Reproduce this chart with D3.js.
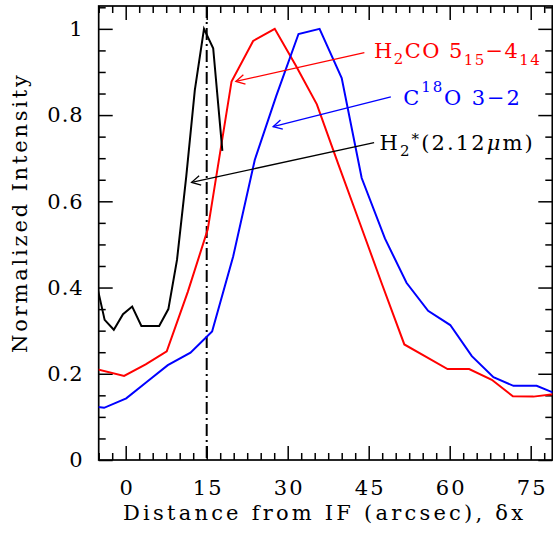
<!DOCTYPE html>
<html><head><meta charset="utf-8">
<script src="https://cdn.jsdelivr.net/npm/d3@7"></script>
<style>body{margin:0;background:#fff} text{font-family:"DejaVu Serif",serif;}</style>
</head><body><svg id="c" width="553" height="539"></svg>
<script>
// ---- data ----
const h2coX = [-5.5, -0.3, 3.7, 7.6, 11.5, 15.2, 19.6, 23.6, 27.6, 31.5, 35.4, 39.4, 43.4, 47.4, 51.6, 55.4, 59.6, 63.6, 67.8, 71.7, 75.5, 79.5];
const h2coY = [0.211, 0.195, 0.222, 0.252, 0.39, 0.535, 0.878, 0.972, 1.0, 0.915, 0.825, 0.685, 0.548, 0.41, 0.268, 0.241, 0.211, 0.211, 0.186, 0.148, 0.147, 0.153];
const c18oX = [-8.0, -4.0, 0.1, 4.0, 7.8, 12.0, 16.0, 19.9, 23.9, 27.9, 32.0, 35.9, 40.0, 43.7, 48.0, 52.0, 56.0, 60.1, 64.1, 68.1, 71.8, 76.1, 80.0];
const c18oY = [0.128, 0.121, 0.143, 0.182, 0.22, 0.249, 0.298, 0.472, 0.696, 0.845, 0.988, 1.0, 0.886, 0.654, 0.514, 0.411, 0.346, 0.313, 0.241, 0.192, 0.172, 0.172, 0.152];
const h2X = [-5.6, -3.9, -2.2, -0.5, 1.2, 2.9, 4.5, 6.2, 7.9, 9.5, 11.2, 12.8, 14.5, 16.2, 17.9];
const h2Y = [0.42, 0.325, 0.302, 0.338, 0.356, 0.311, 0.311, 0.311, 0.35, 0.464, 0.656, 0.858, 1.0, 0.955, 0.717];

const xTicks = [0, 15, 30, 45, 60, 75];
const xMinorStep = 2.5;
const yTicks = [0, 0.2, 0.4, 0.6, 0.8, 1];
const yTickLabels = ["0", "0.2", "0.4", "0.6", "0.8", "1"];
const yMinorStep = 0.05;
const xDomain = [-5, 79];
const yDomain = [0, 1.053];
const markerX = 15;

// annotations: [label anchor x, y, arrow start x, y, arrow tip x, y]
const annH2co = [46.0, 0.933, 44.2, 0.945, 20.4, 0.878];
const annC18o = [51.4, 0.824, 49.1, 0.842, 27.3, 0.773];
const annH2 = [47.0, 0.719, 46.0, 0.736, 12.2, 0.644];

// ---- layout ----
const L = 98.7, R = 552.3, T = 6, B = 460;
const svg = d3.select("#c");
const x = d3.scaleLinear().domain(xDomain).range([L, R]);
const y = d3.scaleLinear().domain(yDomain).range([B, T]);

const xMinor = d3.range(-5, 79.01, xMinorStep).filter(v => !xTicks.includes(v));
const yMinor = d3.range(0, 1.0501, yMinorStep).map(v => +v.toFixed(2)).filter(v => !yTicks.includes(v));

function styleAxis(g) {
  g.select(".domain").remove();
  g.selectAll("line").attr("stroke", "#000").attr("stroke-width", 1.5);
  g.selectAll("text").attr("font-family", "DejaVu Serif").attr("font-size", 21).attr("fill", "#000");
}

// bottom
svg.append("g").attr("transform", `translate(0,${B})`)
  .call(d3.axisBottom(x).tickValues(xTicks).tickSize(-14).tickSizeOuter(0).tickPadding(20).tickFormat(d3.format("d")))
  .call(styleAxis)
  .call(g => g.selectAll("text").attr("letter-spacing", 2).attr("dx", 1));
svg.append("g").attr("transform", `translate(0,${B})`)
  .call(d3.axisBottom(x).tickValues(xMinor).tickSize(-7).tickSizeOuter(0).tickFormat(""))
  .call(styleAxis);
// top
svg.append("g").attr("transform", `translate(0,${T})`)
  .call(d3.axisTop(x).tickValues(xTicks).tickSize(-14).tickSizeOuter(0).tickFormat(""))
  .call(styleAxis);
svg.append("g").attr("transform", `translate(0,${T})`)
  .call(d3.axisTop(x).tickValues(xMinor).tickSize(-7).tickSizeOuter(0).tickFormat(""))
  .call(styleAxis);
// left
svg.append("g").attr("transform", `translate(${L},0)`)
  .call(d3.axisLeft(y).tickValues(yTicks).tickSize(-14).tickSizeOuter(0).tickPadding(15).tickFormat((d, i) => yTickLabels[i]))
  .call(styleAxis)
  .call(g => g.selectAll("text").attr("letter-spacing", 1));
svg.append("g").attr("transform", `translate(${L},0)`)
  .call(d3.axisLeft(y).tickValues(yMinor).tickSize(-7).tickSizeOuter(0).tickFormat(""))
  .call(styleAxis);
// right
svg.append("g").attr("transform", `translate(${R},0)`)
  .call(d3.axisRight(y).tickValues(yTicks).tickSize(-14).tickSizeOuter(0).tickFormat(""))
  .call(styleAxis);
svg.append("g").attr("transform", `translate(${R},0)`)
  .call(d3.axisRight(y).tickValues(yMinor).tickSize(-7).tickSizeOuter(0).tickFormat(""))
  .call(styleAxis);

// frame
svg.append("rect").attr("x", L).attr("y", T).attr("width", R - L).attr("height", B - T)
  .attr("fill", "none").attr("stroke", "#000").attr("stroke-width", 1.7);

// clip
svg.append("clipPath").attr("id", "clip").append("rect")
  .attr("x", L).attr("y", T).attr("width", R - L).attr("height", B - T);

const line = d3.line().x(d => x(d[0])).y(d => y(d[1]));
const plot = svg.append("g").attr("clip-path", "url(#clip)");

// dash-dot vertical marker
plot.append("line").attr("x1", x(markerX)).attr("x2", x(markerX)).attr("y1", T).attr("y2", B)
  .attr("stroke", "#000").attr("stroke-width", 2).attr("stroke-dasharray", "12,4,2,4");

function series(xs, ys, color) {
  plot.append("path").datum(xs.map((v, i) => [v, ys[i]]))
    .attr("d", line).attr("fill", "none").attr("stroke", color).attr("stroke-width", 2);
}
series(h2coX, h2coY, "#ff0000");
series(c18oX, c18oY, "#0000ff");
series(h2X, h2Y, "#000000");

// arrows
function arrow(a, color) {
  const x0 = x(a[2]), y0 = y(a[3]), x1 = x(a[4]), y1 = y(a[5]);
  const ang = Math.atan2(y0 - y1, x0 - x1);
  const hl = 10, ha = 0.5;
  svg.append("line").attr("x1", x0).attr("y1", y0).attr("x2", x1).attr("y2", y1)
    .attr("stroke", color).attr("stroke-width", 1.3);
  const p = d3.path();
  p.moveTo(x1 + hl * Math.cos(ang + ha), y1 + hl * Math.sin(ang + ha));
  p.lineTo(x1, y1);
  p.lineTo(x1 + hl * Math.cos(ang - ha), y1 + hl * Math.sin(ang - ha));
  svg.append("path").attr("d", p.toString()).attr("fill", "none").attr("stroke", color).attr("stroke-width", 1.3);
}
arrow(annH2co, "#ff0000");
arrow(annC18o, "#0000ff");
arrow(annH2, "#000000");

// labels
const FS = 21, SFS = 15;
{
  const t = svg.append("text").attr("x", x(annH2co[0])).attr("y", y(annH2co[1])).attr("fill", "#ff0000").attr("font-size", FS).attr("letter-spacing", 1.4);
  t.append("tspan").text("H");
  t.append("tspan").attr("font-size", SFS).attr("dy", 6).text("2");
  t.append("tspan").attr("dy", -6).text("CO 5");
  t.append("tspan").attr("font-size", SFS).attr("dy", 7).text("15");
  t.append("tspan").attr("dy", -7).text("\u22124");
  t.append("tspan").attr("font-size", SFS).attr("dy", 7).text("14");
}
{
  const t = svg.append("text").attr("x", x(annC18o[0])).attr("y", y(annC18o[1])).attr("fill", "#0000ff").attr("font-size", FS).attr("letter-spacing", 1.9);
  t.append("tspan").text("C");
  t.append("tspan").attr("font-size", SFS).attr("dy", -13).text("18");
  t.append("tspan").attr("dy", 13).text("O 3\u22122");
}
{
  const t = svg.append("text").attr("x", x(annH2[0])).attr("y", y(annH2[1])).attr("fill", "#000").attr("font-size", FS).attr("letter-spacing", 2.1);
  t.append("tspan").text("H");
  t.append("tspan").attr("font-size", SFS).attr("dy", 6).text("2");
  t.append("tspan").attr("font-size", SFS).attr("dy", -12).text("*");
  t.append("tspan").attr("dy", 6).text("(2.12");
  t.append("tspan").attr("font-style", "italic").text("\u03bc");
  t.append("tspan").text("m)");
}

// axis titles
svg.append("text").attr("x", 323).attr("y", 520).attr("text-anchor", "middle")
  .attr("font-size", FS).attr("textLength", 400).attr("lengthAdjust", "spacing")
  .text("Distance from IF (arcsec), \u03b4x");
svg.append("text").attr("transform", "translate(27,214) rotate(-90)").attr("text-anchor", "middle")
  .attr("font-size", FS).attr("textLength", 278).attr("lengthAdjust", "spacing")
  .text("Normalized Intensity");
</script></body></html>
